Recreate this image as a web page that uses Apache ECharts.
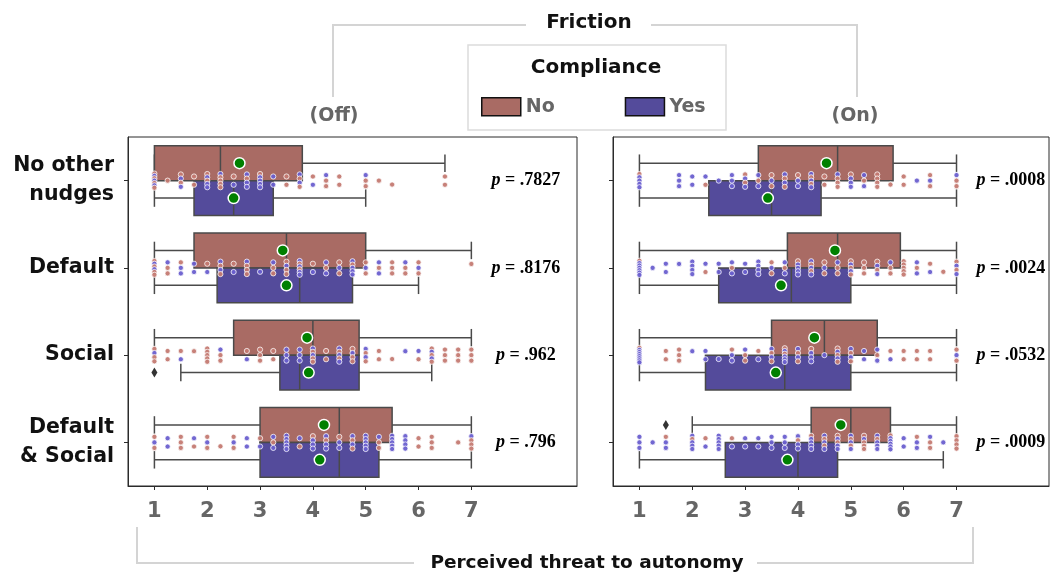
<!DOCTYPE html>
<html><head><meta charset="utf-8">
<script src="https://cdn.jsdelivr.net/npm/echarts@6/dist/echarts.min.js"></script>
<style>html,body{margin:0;padding:0;background:#fff}#c{width:1051px;height:576px}</style>
</head><body><div id="c"></div>
<script>
// ---------- data ----------
const categories = ['No other\nnudges', 'Default', 'Social', 'Default\n& Social'];
const xTicks = [1, 2, 3, 4, 5, 6, 7];
const hueNames = ['No', 'Yes'];
const panelNames = ['(Off)', '(On)'];

// box statistics per category: [whisker low, Q1, median, Q3, whisker high]
const boxOffNo  = [[1, 1, 2.25, 3.8, 6.5], [1, 1.75, 3.5, 5, 7], [1, 2.5, 4, 4.875, 7], [1, 3, 4.5, 5.5, 7]];
const boxOffYes = [[1, 1.75, 2.5, 3.25, 5], [1, 2.1875, 3.75, 4.75, 6], [1.5, 3.375, 3.75, 4.875, 6.25], [1, 3, 4.5, 5.25, 7]];
const boxOnNo   = [[1, 3.25, 4.75, 5.8, 7], [1, 3.8, 4.75, 5.9375, 7], [1, 3.5, 4.5, 5.5, 7], [2, 4.25, 5, 5.75, 7]];
const boxOnYes  = [[1, 2.3125, 3.5, 4.4375, 7], [1, 2.5, 3.875, 5, 7], [1, 2.25, 3.75, 5, 7], [1, 2.625, 4, 4.75, 6.75]];

// means per category
const meanOffNo  = [2.61, 3.43, 3.89, 4.21];
const meanOffYes = [2.5, 3.5, 3.92, 4.13];
const meanOnNo   = [4.54, 4.7, 4.31, 4.81];
const meanOnYes  = [3.43, 3.68, 3.58, 3.8];

// outliers: [category index, value]
const outOffNo  = [];
const outOffYes = [[2, 1]];
const outOnNo   = [[3, 1.5]];
const outOnYes  = [];

// p-values
const pOff = ['.7827', '.8176', '.962', '.796'];
const pOn  = ['.0008', '.0024', '.0532', '.0009'];

// individual responses (strip points)
const offNo_none    = [1,1,1,1,1.25,1.5,1.5,1.75,1.75,2,2,2.25,2.25,2.25,2.25,2.5,2.75,3,3.5,3.5,3.75,3.75,4,4.25,4.25,4.5,4.5,5,5,5.25,5.5,6.5,6.5];
const offYes_none   = [1,1,1,1.5,1.5,2,2,2,2.25,2.5,2.75,2.75,2.75,3,3,3,3,3.25,3.25,3.75,3.75,4,4.25,5];
const offNo_default = [1,1,1,1,1.25,1.25,1.5,2,2.25,2.25,2.5,2.75,2.75,2.75,3.25,3.25,3.5,3.5,3.5,3.75,3.75,4,4.25,4.5,4.5,4.75,5,5,5.25,5.5,5.5,5.5,5.75,5.75,6,6,7];
const offYes_default= [1,1,1.25,1.5,1.5,1.75,1.75,2,2.25,2.25,2.5,2.75,3,3.25,3.5,3.75,3.75,3.75,3.75,4,4.25,4.25,4.5,4.75,4.75,4.75,4.75,5,5.25,5.25,5.75,6];
const offNo_social  = [1,1,1,1.25,1.25,1.5,1.75,2,2,2,2,2,2.25,2.25,2.75,3,3,3,3.25,3.25,4,4,4,4.25,4.25,4.5,4.5,4.75,4.75,4.75,5,5,5.25,5.25,5.5,6,6.25,6.25,6.25,6.5,6.5,6.5,6.75,6.75,6.75,7,7,7];
const offYes_social = [1,1.5,2.25,2.75,3.5,3.5,3.5,3.75,3.75,3.75,4,4,4.5,4.5,4.5,4.75,5,5,5.75,6,6.25,6.25];
const offNo_both    = [1,1,1.5,1.5,1.5,1.75,2,2,2.25,2.5,2.5,3,3.25,3.75,4,4.25,4.5,4.75,4.75,5.25,5.25,6,6,6.25,6.25,6.25,6.75,7,7,7];
const offYes_both   = [1,1.25,1.25,1.75,2,2.5,2.75,2.75,3,3.25,3.25,3.5,3.5,3.5,3.5,3.5,3.75,4,4,4,4.25,4.25,4.25,4.5,4.5,4.75,4.75,5,5,5,5,5,5.25,5.5,5.5,5.5,5.5,5.5,5.75,5.75,5.75,5.75,7];
const onNo_none     = [1,2.25,3,3,3.25,3.5,3.5,3.75,3.75,4,4.25,4.25,4.5,4.5,4.75,4.75,4.75,5,5.25,5.5,5.5,5.5,5.5,5.75,6,6,6.5,6.5,7,7];
const onYes_none    = [1,1,1,1,1.75,1.75,1.75,2,2,2.25,2.5,2.75,2.75,2.75,3,3,3.25,3.25,3.5,3.75,3.75,4,4,4.25,4.25,4.25,4.75,5,5,5,5.25,5.25,6.25,6.5,7];
const onNo_default  = [1,2.25,2.75,3.5,3.5,3.75,4,4.25,4.25,4.5,4.5,4.75,4.75,5,5,5,5.25,5.25,5.25,5.5,5.5,5.75,5.75,6,6,6,6,6,6.25,6.5,6.75,7,7];
const onYes_default = [1,1,1,1,1,1,1.25,1.5,1.5,1.75,2,2,2,2,2.25,2.5,2.5,2.75,2.75,3,3,3.25,3.25,3.25,3.25,3.5,3.75,3.75,4,4,4,4,4.25,4.25,4.25,4.5,4.75,5,5,5.5,5.5,5.75,6.25,6.25,6.5,7,7];
const onNo_social   = [1,1.5,1.5,1.75,1.75,1.75,2.75,3,3,3.25,3.5,3.5,3.75,3.75,4,4,4.25,4.75,4.75,4.75,5,5,5.5,5.75,6,6,6.25,6.25,6.5,6.5,7,7];
const onYes_social  = [1,1,1,1,1,1,1,2,2.25,2.25,2.5,2.75,2.75,3,3.25,3.5,3.5,3.75,3.75,3.75,3.75,4,4,4.25,4.25,4.25,4.5,4.75,4.75,5,5,5.25,5.25,5.5,5.5,5.75,7];
const onNo_both     = [1.5,2,2.25,2.75,4,4.25,4.5,4.5,4.75,4.75,5,5,5.25,5.25,5.25,5.25,5.5,5.75,6.25,6.5,6.5,7,7,7,7];
const onYes_both    = [1,1,1,1.25,1.5,1.5,2,2,2,2,2.25,2.5,2.5,2.5,2.5,2.5,2.75,3,3,3.25,3.25,3.5,3.5,3.5,3.75,3.75,3.75,4,4,4,4.25,4.25,4.25,4.25,4.5,4.5,4.5,4.75,4.75,4.75,5,5,5,5.25,5.5,5.5,5.5,5.5,5.75,5.75,5.75,5.75,5.75,6,6,6.25,6.25,6.5,6.75];

// ---------- styling ----------
const COLORS = ['#a96b64', '#544b9b'];
const PT_COLORS = ['#c47a72', '#6a5fcf'];
const EDGE = '#4a4a4a';
const GRAY = '#666666';
const FONT = 'DejaVu Sans';
const JIT = 0.095;

const ptsOff = [[offNo_none, offNo_default, offNo_social, offNo_both], [offYes_none, offYes_default, offYes_social, offYes_both]];
const ptsOn  = [[onNo_none, onNo_default, onNo_social, onNo_both], [onYes_none, onYes_default, onYes_social, onYes_both]];

// deterministic strip layout: points sharing a value in a row are spread vertically
function layoutStrip(rowsByHue) {
  const out = [];
  for (let r = 0; r < categories.length; r++) {
    const cols = new Map();
    [0, 1].forEach(h => rowsByHue[h][r].forEach(v => {
      if (!cols.has(v)) cols.set(v, [0, 0]);
      cols.get(v)[h]++;
    }));
    let ci = 0;
    [...cols.keys()].sort((a, b) => a - b).forEach(v => {
      const cnt = cols.get(v);
      const seq = [];
      let a = cnt[0], b = cnt[1];
      const first = ci % 2;
      while (a > 0 || b > 0) {
        if (first === 0) { if (a > 0) { seq.push(0); a--; } if (b > 0) { seq.push(1); b--; } }
        else { if (b > 0) { seq.push(1); b--; } if (a > 0) { seq.push(0); a--; } }
      }
      const n = seq.length;
      seq.forEach((h, k) => {
        const off = n === 1 ? (ci % 3 - 1) * 0.045 : (-JIT + 2 * JIT * (k + 0.5) / n);
        out.push([v, r, h, off]);
      });
      ci++;
    });
  }
  return out;
}

function boxRenderer(hue) {
  return function (params, api) {
    const c = api.value(0);
    const v = [1, 2, 3, 4, 5].map(i => api.value(i));
    const band = api.size([0, 1])[1];
    const center = api.coord([v[2], c])[1];
    const h = band * 0.4;
    const y0 = hue === 0 ? center - h : center;
    const y1 = y0 + h;
    const ym = (y0 + y1) / 2;
    const xs = v.map(val => api.coord([val, c])[0]);
    const cap = band * 0.1;
    const ls = { stroke: EDGE, lineWidth: 1.5 };
    return {
      type: 'group',
      children: [
        { type: 'line', shape: { x1: xs[0], y1: ym, x2: xs[1], y2: ym }, style: ls },
        { type: 'line', shape: { x1: xs[3], y1: ym, x2: xs[4], y2: ym }, style: ls },
        { type: 'line', shape: { x1: xs[0], y1: ym - cap, x2: xs[0], y2: ym + cap }, style: ls },
        { type: 'line', shape: { x1: xs[4], y1: ym - cap, x2: xs[4], y2: ym + cap }, style: ls },
        { type: 'rect', shape: { x: xs[1], y: y0, width: xs[3] - xs[1], height: h },
          style: { fill: api.visual('color'), stroke: EDGE, lineWidth: 1.5 } },
        { type: 'line', shape: { x1: xs[2], y1: y0, x2: xs[2], y2: y1 }, style: ls }
      ]
    };
  };
}

function pointRenderer(params, api) {
  const p = api.coord([api.value(0), api.value(1)]);
  const band = api.size([0, 1])[1];
  const h = api.value(2);
  return { type: 'circle', shape: { cx: p[0], cy: p[1] + api.value(3) * band, r: 2.6 },
    style: { fill: PT_COLORS[h], stroke: '#fff', lineWidth: 0.8, opacity: 0.95 } };
}

function meanRenderer(hue) {
  return function (params, api) {
    const p = api.coord([api.value(1), api.value(0)]);
    const band = api.size([0, 1])[1];
    return { type: 'circle', shape: { cx: p[0], cy: p[1] + (hue === 0 ? -0.2 : 0.2) * band, r: 5.5 },
      style: { fill: '#008000', stroke: '#fff', lineWidth: 1.5 } };
  };
}

function outlierRenderer(hue) {
  return function (params, api) {
    const p = api.coord([api.value(1), api.value(0)]);
    const band = api.size([0, 1])[1];
    const cy = p[1] + (hue === 0 ? -0.2 : 0.2) * band;
    return { type: 'polygon', shape: { points: [[p[0], cy - 5], [p[0] + 3, cy], [p[0], cy + 5], [p[0] - 3, cy]] },
      style: { fill: '#333' } };
  };
}

function pRenderer(list) {
  return function (params, api) {
    const p = api.coord([8.03, api.value(0)]);
    return { type: 'text', x: p[0], y: p[1],
      style: { text: '{i|p} = ' + list[params.dataIndex], align: 'center', verticalAlign: 'middle',
        fontFamily: 'Liberation Serif', fontWeight: 'bold', fontSize: 18, fill: '#000',
        rich: { i: { fontStyle: 'italic', fontFamily: 'Liberation Serif', fontWeight: 'bold', fontSize: 18 } } } };
  };
}

function panelSeries(gi, boxNo, boxYes, meanNo, meanYes, outNo, outYes, pts, pList) {
  const s = [];
  [[boxNo, 0], [boxYes, 1]].forEach(([bx, h]) => {
    s.push({ type: 'custom', name: hueNames[h], xAxisIndex: gi, yAxisIndex: gi, z: 2,
      itemStyle: { color: COLORS[h] }, renderItem: boxRenderer(h),
      encode: { x: [1, 2, 3, 4, 5], y: 0 },
      data: bx.map((b, i) => [i].concat(b)) });
  });
  s.push({ type: 'custom', name: 'points', xAxisIndex: gi, yAxisIndex: gi, z: 3,
    renderItem: pointRenderer, encode: { x: 0, y: 1 }, data: layoutStrip(pts) });
  [[meanNo, 0], [meanYes, 1]].forEach(([m, h]) => {
    s.push({ type: 'custom', name: 'mean ' + hueNames[h], xAxisIndex: gi, yAxisIndex: gi, z: 4,
      renderItem: meanRenderer(h), encode: { x: 1, y: 0 }, data: m.map((v, i) => [i, v]) });
  });
  [[outNo, 0], [outYes, 1]].forEach(([o, h]) => {
    if (o.length) s.push({ type: 'custom', name: 'outlier ' + hueNames[h], xAxisIndex: gi, yAxisIndex: gi, z: 4,
      renderItem: outlierRenderer(h), encode: { x: 1, y: 0 }, data: o });
  });
  s.push({ type: 'custom', name: 'p', xAxisIndex: gi, yAxisIndex: gi, z: 5,
    renderItem: pRenderer(pList), encode: { y: 0 }, data: pList.map((p, i) => [i]) });
  return s;
}

const xAxisBase = {
  type: 'value', min: 0.5, splitLine: { show: false },
  axisLine: { show: true, lineStyle: { color: '#2b2b2b', width: 1 } },
  axisTick: { show: true, customValues: xTicks, length: 4, lineStyle: { color: '#2b2b2b' } },
  axisLabel: { customValues: xTicks, color: GRAY, fontWeight: 'bold', fontSize: 21, fontFamily: FONT, margin: 15 }
};
const yAxisBase = {
  type: 'category', data: categories, inverse: true,
  axisLine: { show: true, lineStyle: { color: '#2b2b2b', width: 1 } },
  axisTick: { show: true, alignWithLabel: true, length: 4, lineStyle: { color: '#2b2b2b' } }
};

const chart = echarts.init(document.getElementById('c'), null, { renderer: 'canvas' });
chart.setOption({
  animation: false,
  backgroundColor: '#fff',
  grid: [
    { left: 128, top: 137, width: 449, height: 349, show: true, borderColor: '#2b2b2b', borderWidth: 1 },
    { left: 613, top: 137, width: 436, height: 349, show: true, borderColor: '#2b2b2b', borderWidth: 1 }
  ],
  xAxis: [
    Object.assign({}, xAxisBase, { gridIndex: 0, max: 9 }),
    Object.assign({}, xAxisBase, { gridIndex: 1, max: 8.75 })
  ],
  yAxis: [
    Object.assign({}, yAxisBase, { gridIndex: 0,
      axisLabel: { color: '#111', fontWeight: 'bold', fontSize: 20.5, fontFamily: FONT, align: 'right', lineHeight: 29, margin: 14, padding: [4, 0, 0, 0] } }),
    Object.assign({}, yAxisBase, { gridIndex: 1, axisLabel: { show: false } })
  ],
  legend: {
    data: hueNames, left: 481, top: 97, padding: 0, icon: 'rect', itemWidth: 39, itemHeight: 18, itemGap: 70,
    selectedMode: false,
    itemStyle: { borderColor: '#111', borderWidth: 1.5 },
    textStyle: { color: GRAY, fontSize: 19, fontWeight: 'bold', fontFamily: FONT, padding: [0, 0, 0, 0] }
  },
  graphic: [
    { type: 'rect', shape: { x: 468, y: 45, width: 258, height: 85 }, style: { fill: '#fff', stroke: '#dcdcdc', lineWidth: 1.5 }, z: -1 },
    { type: 'text', x: 596, y: 68, style: { text: 'Compliance', align: 'center', verticalAlign: 'middle', fontFamily: FONT, fontWeight: 'bold', fontSize: 20, fill: '#111' } },
    { type: 'text', x: 589, y: 23, style: { text: 'Friction', align: 'center', verticalAlign: 'middle', fontFamily: FONT, fontWeight: 'bold', fontSize: 20, fill: '#111' } },
    { type: 'polyline', shape: { points: [[333, 97], [333, 25], [526, 25]] }, style: { stroke: '#d4d4d4', lineWidth: 2, fill: null } },
    { type: 'polyline', shape: { points: [[651, 25], [857, 25], [857, 97]] }, style: { stroke: '#d4d4d4', lineWidth: 2, fill: null } },
    { type: 'text', x: 334, y: 116, style: { text: panelNames[0], align: 'center', verticalAlign: 'middle', fontFamily: FONT, fontWeight: 'bold', fontSize: 19, fill: GRAY } },
    { type: 'text', x: 855, y: 116, style: { text: panelNames[1], align: 'center', verticalAlign: 'middle', fontFamily: FONT, fontWeight: 'bold', fontSize: 19, fill: GRAY } },
    { type: 'polyline', shape: { points: [[137, 527], [137, 563], [414, 563]] }, style: { stroke: '#d4d4d4', lineWidth: 2, fill: null } },
    { type: 'polyline', shape: { points: [[757, 563], [973, 563], [973, 527]] }, style: { stroke: '#d4d4d4', lineWidth: 2, fill: null } },
    { type: 'text', x: 587, y: 563, style: { text: 'Perceived threat to autonomy', align: 'center', verticalAlign: 'middle', fontFamily: FONT, fontWeight: 'bold', fontSize: 18.5, fill: '#111' } }
  ],
  series: [].concat(
    panelSeries(0, boxOffNo, boxOffYes, meanOffNo, meanOffYes, outOffNo, outOffYes, ptsOff, pOff),
    panelSeries(1, boxOnNo, boxOnYes, meanOnNo, meanOnYes, outOnNo, outOnYes, ptsOn, pOn)
  )
});
</script>
</body></html>
